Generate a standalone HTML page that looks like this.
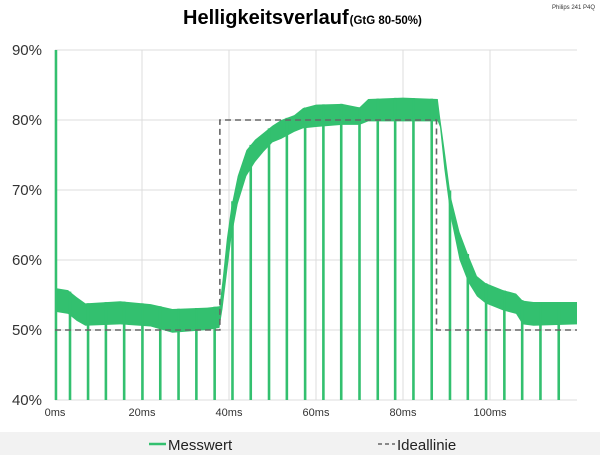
<!DOCTYPE html>
<html><head><meta charset="utf-8"><style>
body{margin:0;background:#fff;font-family:"Liberation Sans",sans-serif}
svg{display:block}
</style></head><body>
<svg id="chart" width="600" height="455">
<text x="183" y="24" font-size="20" font-weight="bold">Helligkeitsverlauf<tspan font-size="11.5" dx="1">(GtG 80-50%)</tspan></text>
<text x="552" y="9" font-size="6" fill="#333">Philips 241 P4Q</text>
<g id="grid"></g><g id="axes"></g><g id="series"></g>
<rect x="0" y="432" width="600" height="23" fill="#f2f2f2"/>
<line x1="149" y1="444" x2="166" y2="444" stroke="#33c06f" stroke-width="2.5"/>
<text x="168" y="450" font-size="15" fill="#222">Messwert</text>
<line x1="378" y1="444" x2="395" y2="444" stroke="#666" stroke-width="1.5" stroke-dasharray="4,3"/>
<text x="397" y="450" font-size="15" fill="#222">Ideallinie</text>
</svg>
<script>
const xTicks=[0,20,40,60,80,100];
const xTickLabels=["0ms","20ms","40ms","60ms","80ms","100ms"];
const yTicks=[40,50,60,70,80,90];
const yTickLabels=["40%","50%","60%","70%","80%","90%"];
const envTime=[0,3,5,7,15,22,27,35,37.8,38.5,39.5,40.5,42,44,46,48,50,52,55,57,60,66,70,72,80,88,88.5,89.5,91,93,95,97,99,103,106,107.5,110,120];
const envLow=[52.6,52.3,51.3,50.6,50.8,50.5,49.6,50.0,50.3,53,58,63,68,72,74,75.5,76.8,77.3,78.3,78.8,79,79.3,79.3,79.8,79.8,79.8,79,73,66,60,56.8,54.8,53.8,52.8,52.3,50.8,50.6,50.8];
const envHigh=[56,55.7,54.7,53.8,54.1,53.7,53,53.2,53.4,57,63,67.5,72,75.7,77.2,78.2,79.2,80,80.7,81.7,82.2,82.3,81.8,83,83.2,83,80.5,76,69,64,60.7,57.7,56.7,55.7,55.2,54.2,54,54];
const spikeTimes=[3.45,7.6,11.7,15.9,20.1,24.2,28.4,32.5,36.7,40.8,45.0,49.2,53.3,57.5,61.7,65.8,70.0,74.2,78.2,82.4,86.6,90.8,94.9,99.1,103.3,107.4,111.6,115.8];
const idealTime=[0,37.9,37.9,87.7,87.7,120];
const idealValue=[50,50,80,80,50,50];
const X0=55,X1=577,Y0=400,Y1=50,TMAX=120,VMIN=40,VMAX=90;
const sx=t=>X0+(t/TMAX)*(X1-X0);
const sy=v=>Y0-(v-VMIN)/(VMAX-VMIN)*(Y0-Y1);
const NS="http://www.w3.org/2000/svg";
function mk(tag,parent,attrs){const e=document.createElementNS(NS,tag);for(const k in attrs)e.setAttribute(k,attrs[k]);document.getElementById(parent).appendChild(e);return e;}
function interp(arr,t){let i=0;while(i<envTime.length-2&&envTime[i+1]<t)i++;const a=envTime[i],b=envTime[i+1];const f=(t-a)/(b-a);return arr[i]+(arr[i+1]-arr[i])*f;}
yTicks.forEach((v,i)=>{
 const l=mk('line','grid',{x1:X0,x2:X1,y1:sy(v),y2:sy(v),stroke:'#dcdcdc','stroke-width':1});
 
 
 const t=mk('text','axes',{x:42,y:sy(v)+5,'font-size':15,'text-anchor':'end',fill:'#333'});
 t.textContent=yTickLabels[i];
 
 
});
xTicks.forEach((v,i)=>{
 const l=mk('line','grid',{x1:sx(v),x2:sx(v),y1:Y1,y2:Y0,stroke:'#dcdcdc','stroke-width':1});
 
 
 const t=mk('text','axes',{x:sx(v),y:416,'font-size':11,'text-anchor':'middle',fill:'#333'});
 t.textContent=xTickLabels[i];
 
 
});
let pts=envTime.map((t,i)=>sx(t)+','+sy(envHigh[i]));
for(let i=envTime.length-1;i>=0;i--)pts.push(sx(envTime[i])+','+sy(envLow[i]));
const band=mk('polygon','series',{points:pts.join(' '),fill:'#33c06f'});


const first=mk('line','series',{x1:sx(0)+1,x2:sx(0)+1,y1:sy(90),y2:sy(40),stroke:'#33c06f','stroke-width':2.5});


spikeTimes.forEach(t=>{
 const l=mk('line','series',{x1:sx(t),x2:sx(t),y1:sy(interp(envHigh,t)),y2:sy(40),stroke:'#33c06f','stroke-width':2.6});
 
 
});
const ip=idealTime.map((t,i)=>sx(t)+','+sy(idealValue[i])).join(' ');
const ideal=mk('polyline','series',{points:ip,fill:'none',stroke:'#666','stroke-width':1.6,'stroke-dasharray':'6,4'});


</script>
</body></html>
